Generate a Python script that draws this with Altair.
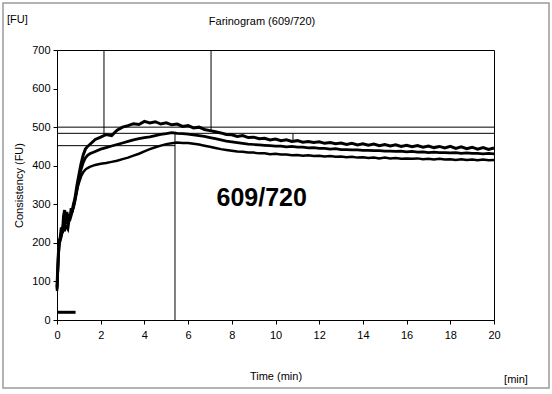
import altair as alt
import pandas as pd

# ---------------- data ----------------
t_early = [0, 0.05, 0.1, 0.15, 0.2, 0.25, 0.3, 0.35, 0.4, 0.45, 0.5, 0.55, 0.6, 0.65,
           0.7, 0.75, 0.8, 0.85, 0.9, 0.95, 1.0, 1.1, 1.2, 1.3, 1.4, 1.5]
t_late = [1.75, 2.0, 2.25, 2.5, 2.75, 3.0, 3.25, 3.5, 3.75, 4.0, 4.25, 4.5, 4.75, 5.0,
          5.25, 5.5, 5.75, 6.0, 6.25, 6.5, 6.75, 7.0, 7.25, 7.5, 7.75, 8.0, 8.25, 8.5,
          8.75, 9.0, 9.25, 9.5, 9.75, 10.0, 10.25, 10.5, 10.75, 11.0, 11.25, 11.5, 11.75,
          12.0, 12.25, 12.5, 12.75, 13.0, 13.25, 13.5, 13.75, 14.0, 14.25, 14.5, 14.75,
          15.0, 15.25, 15.5, 15.75, 16.0, 16.25, 16.5, 16.75, 17.0, 17.25, 17.5, 17.75,
          18.0, 18.25, 18.5, 18.75, 19.0, 19.25, 19.5, 19.75, 20.0]
time_min = t_early + t_late

top_fu = [85, 160, 205, 215, 240, 225, 270, 285, 250, 280, 260, 275, 265, 290, 280, 300,
          310, 325, 345, 360, 375, 405, 428, 443, 450, 455,
          468, 474, 481, 478, 492, 500, 504, 509, 507, 515, 511, 514, 508, 511, 506, 508,
          502, 504, 498, 500, 494, 491, 488, 485, 481, 480, 476, 478, 473, 474, 470, 471,
          467, 469, 465, 467, 463, 465, 461, 463, 460, 462, 458, 460, 457, 459, 455, 458,
          454, 457, 453, 456, 452, 455, 451, 454, 450, 453, 449, 452, 448, 451, 447, 450,
          446, 450, 445, 449, 444, 448, 443, 447, 442, 446]
mid_fu = [80, 150, 200, 210, 225, 235, 250, 245, 260, 255, 250, 265, 270, 275, 285, 295,
          305, 320, 335, 350, 365, 390, 408, 420, 427, 431,
          437, 443, 447, 451, 455, 459, 463, 467, 470, 473, 475, 478, 481, 483, 486, 484,
          483, 482, 480, 478, 476, 473, 470, 467, 464, 462, 460, 458, 456, 455, 454, 453,
          452, 451, 451, 449, 450, 448, 448, 446, 447, 445, 445, 443, 444, 442, 442, 441,
          441, 440, 440, 439, 439, 438, 438, 437, 438, 436, 437, 435, 436, 434, 435, 434,
          434, 433, 434, 432, 433, 432, 432, 431, 432, 431]
bot_fu = [75, 140, 195, 205, 215, 230, 240, 230, 245, 240, 235, 255, 260, 270, 280, 290,
          300, 315, 330, 345, 355, 372, 383, 390, 394, 397,
          402, 405, 407, 410, 413, 417, 421, 426, 431, 437, 443, 448, 452, 456, 458, 460,
          459, 459, 457, 455, 452, 449, 446, 443, 441, 439, 437, 436, 434, 434, 432, 432,
          430, 431, 429, 429, 427, 428, 426, 427, 425, 426, 424, 425, 423, 424, 422, 423,
          421, 422, 420, 421, 419, 421, 419, 420, 418, 419, 418, 419, 417, 418, 416, 418,
          416, 417, 415, 417, 415, 416, 414, 416, 414, 415]

series_names = ["top", "middle", "bottom"]
series_widths = [3, 2.5, 3]

# evaluation lines (start/end in min and FU)
rule_x = [2.15, 7.05, 5.4, 10.8, 0, 0, 0, 0]
rule_x2 = [2.15, 7.05, 5.4, 10.8, 20, 20, 5.4, 0.85]
rule_y = [483, 489, 0, 462, 500, 484, 452, 20]
rule_y2 = [700, 700, 488, 484, 500, 484, 452, 20]
rule_w = [1, 1, 1, 1, 1, 1, 1, 3]

label_text = ["609/720"]
label_x = [9.37]
label_y = [317]

x_ticks = [0, 2, 4, 6, 8, 10, 12, 14, 16, 18, 20]
y_ticks = [0, 100, 200, 300, 400, 500, 600, 700]

# ---------------- build ----------------
rows = []
for name, vals in zip(series_names, [top_fu, mid_fu, bot_fu]):
    for t, v in zip(time_min, vals):
        rows.append({"t": t, "fu": v, "series": name})
curves = pd.DataFrame(rows)
rules = pd.DataFrame({"x": rule_x, "x2": rule_x2, "y": rule_y, "y2": rule_y2, "w": rule_w})
labels = pd.DataFrame({"x": label_x, "y": label_y, "text": label_text})

FONT = "Liberation Sans"
xs = alt.Scale(domain=[0, 20], nice=False, zero=False)
ys = alt.Scale(domain=[0, 700], nice=False)

xaxis = alt.Axis(values=x_ticks, title="Time (min)", grid=False, tickSize=4,
                 labelPadding=5, titlePadding=30, labelFontSize=11, titleFontSize=11,
                 labelOverlap=False, labelFlush=False,
                 titleFontWeight="normal", domainColor="black", tickColor="black",
                 labelColor="black", titleColor="black", labelFont=FONT, titleFont=FONT)
yaxis = alt.Axis(values=y_ticks, title="Consistency (FU)", grid=False, tickSize=4,
                 labelPadding=3, titlePadding=7, labelFontSize=11, titleFontSize=11,
                 labelOverlap=False, labelFlush=False,
                 titleFontWeight="normal", domainColor="black", tickColor="black",
                 labelColor="black", titleColor="black", labelFont=FONT, titleFont=FONT)

lines = alt.Chart(curves).mark_line(color="black", strokeJoin="miter").encode(
    x=alt.X("t:Q", scale=xs, axis=xaxis),
    y=alt.Y("fu:Q", scale=ys, axis=yaxis),
    detail="series:N",
    strokeWidth=alt.StrokeWidth("series:N", scale=alt.Scale(domain=series_names, range=series_widths), legend=None),
)

rule_layer = alt.Chart(rules).mark_rule(color="black").encode(
    x=alt.X("x:Q", scale=xs, axis=xaxis), x2="x2:Q",
    y=alt.Y("y:Q", scale=ys, axis=yaxis), y2="y2:Q",
    strokeWidth=alt.StrokeWidth("w:Q", scale=None, legend=None),
)

big_text = alt.Chart(labels).mark_text(font=FONT, fontSize=25, fontWeight="bold",
                                       color="black", align="center", baseline="middle").encode(
    x=alt.X("x:Q", scale=xs, axis=xaxis), y=alt.Y("y:Q", scale=ys, axis=yaxis), text="text:N")

frame = alt.Chart(pd.DataFrame({"a": [0]})).mark_rect(
    fill=None, stroke="#9a9a9a", strokeWidth=1.5).encode(
    x=alt.value(-54), x2=alt.value(492), y=alt.value(-47), y2=alt.value(338))

title_t = alt.Chart(pd.DataFrame({"text": ["Farinogram (609/720)"]})).mark_text(
    font=FONT, fontSize=11, color="black", align="center", baseline="middle").encode(
    x=alt.value(205), y=alt.value(-28), text="text:N")
fu_t = alt.Chart(pd.DataFrame({"text": ["[FU]"]})).mark_text(
    font=FONT, fontSize=11, color="black", align="left", baseline="middle").encode(
    x=alt.value(-50), y=alt.value(-30), text="text:N")
min_t = alt.Chart(pd.DataFrame({"text": ["[min]"]})).mark_text(
    font=FONT, fontSize=11, color="black", align="center", baseline="middle").encode(
    x=alt.value(459), y=alt.value(330), text="text:N")

chart = alt.layer(frame, lines, rule_layer, big_text, title_t, fu_t, min_t).properties(
    width=437, height=270,
    autosize=alt.AutoSizeParams(type="none"),
    padding={"left": 57, "top": 50, "right": 58, "bottom": 74},
    background="white",
).configure_view(stroke="black", strokeWidth=1)

chart.save("out.html", embed_options={"renderer": "svg", "actions": False})
